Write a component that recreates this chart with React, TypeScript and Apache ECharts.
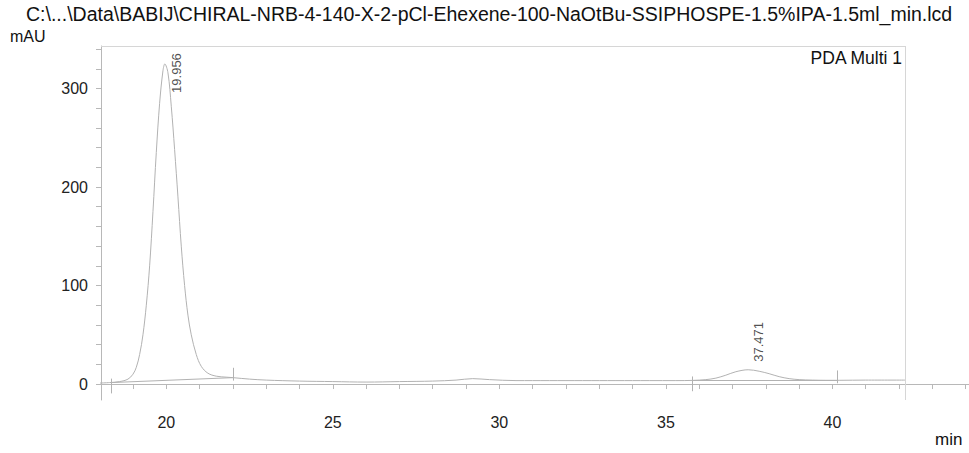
import React, { useEffect, useRef } from "react";
import * as echarts from "echarts";

const titleText =
  "C:\\...\\Data\\BABIJ\\CHIRAL-NRB-4-140-X-2-pCl-Ehexene-100-NaOtBu-SSIPHOSPE-1.5%IPA-1.5ml_min.lcd";
const yUnit = "mAU";
const xUnit = "min";
const detectorName = "PDA Multi 1";

// chromatogram trace (retention time in min, absorbance in mAU)
const times = [
  18.0, 18.3, 18.6, 18.85, 19.0, 19.1, 19.2, 19.3, 19.4, 19.5, 19.6, 19.7, 19.8, 19.9, 19.956,
  20.05, 20.15, 20.25, 20.35, 20.45, 20.55, 20.65, 20.75, 20.9, 21.05, 21.25, 21.5, 21.8, 22.0,
  22.5, 23, 24, 25, 26, 27, 28, 28.7, 29.2, 29.7, 30.5, 31.5, 32.5, 33.5, 34.5, 35.3, 35.8,
  36.2, 36.5, 36.8, 37.1, 37.471, 37.8, 38.1, 38.4, 38.7, 39.0, 39.4, 39.8, 40.2, 41, 42.2,
];
const signal = [
  1, 1.5, 2.5, 5, 10, 17, 30, 50, 80, 120, 175, 235, 285, 318, 325,
  316, 282, 238, 190, 140, 100, 70, 50, 30, 18, 11, 8, 7, 6.5,
  5, 4, 3, 2.5, 2, 2.5, 3, 4, 5.5, 4.5, 3.5, 3.5, 3.5, 3.5, 3.5, 3.5, 3.7,
  4.5, 6, 9, 12.5, 14.5, 13, 10.5, 7.5, 5.5, 4.5, 4, 3.8, 3.8, 4, 4,
];

// detected peaks
const peakTimes = [19.956, 37.471];
const peakHeights = [325, 14.5];
const peakLabels = ["19.956", "37.471"];
// integration baselines: [time, level] at start and end of each peak
const baselineStart = [
  [18.35, 1.5],
  [35.8, 3.7],
];
const baselineEnd = [
  [22.0, 6.5],
  [40.15, 3.8],
];

// axes
const xMin = 18.04;
const xMax = 44.1;
const xFrameEnd = 42.2;
const yMin = -16.2;
const yMax = 343.2;
const xTickValues = [19, 20, 21, 22, 23, 24, 25, 26, 27, 28, 29, 30, 31, 32, 33, 34, 35, 36, 37, 38, 39, 40, 41, 42, 43, 44];
const xLabelValues = [20, 25, 30, 35, 40];
const yTickValues = [0, 20, 40, 60, 80, 100, 120, 140, 160, 180, 200, 220, 240, 260, 280, 300, 320, 340];
const yLabelValues = [0, 100, 200, 300];

const FONT = "'Liberation Sans', Arial, Helvetica, sans-serif";

export default function App() {
  const ref = useRef<HTMLDivElement>(null);
  useEffect(() => {
    if (!ref.current) return;
    const chart = echarts.init(ref.current, undefined, { renderer: "svg" });
    const trace = times.map((t, i) => [t, signal[i]]);
    const baseSegs: any[] = baselineStart.map((s, i) => [
      { coord: s },
      { coord: baselineEnd[i] },
    ]);
    const startMarks: any[] = baselineStart.map((s) => [
      { coord: [s[0], s[1] + 4] },
      { coord: [s[0], s[1] - 11] },
    ]);
    const endMarks: any[] = baselineEnd.map((s) => [
      { coord: [s[0], s[1] - 3] },
      { coord: [s[0], s[1] + 10] },
    ]);
    const frame: any[] = [
      [{ coord: [xMin, yMax] }, { coord: [xFrameEnd, yMax] }],
      [{ coord: [xFrameEnd, yMin] }, { coord: [xFrameEnd, yMax] }],
    ];
    chart.setOption({
      animation: false,
      textStyle: { fontFamily: FONT },
      grid: { left: 101, top: 46, right: 0, bottom: 53, containLabel: false },
      xAxis: {
        type: "value",
        min: xMin,
        max: xMax,
        axisLine: { show: true, lineStyle: { color: "#b8b8b8", width: 1 } },
        axisTick: { show: true, length: 5, customValues: xTickValues, lineStyle: { color: "#b8b8b8" } },
        axisLabel: { customValues: xLabelValues, margin: 14, fontSize: 16, color: "#222", fontFamily: FONT },
        splitLine: { show: false },
      },
      yAxis: {
        type: "value",
        min: yMin,
        max: yMax,
        axisLine: { show: true, lineStyle: { color: "#b8b8b8", width: 1 } },
        axisTick: { show: true, length: 5, customValues: yTickValues, lineStyle: { color: "#b8b8b8" } },
        axisLabel: { customValues: yLabelValues, margin: 13, fontSize: 16, color: "#222", fontFamily: FONT },
        splitLine: { show: false },
      },
      graphic: [
        { type: "text", left: 26, top: 4, style: { text: titleText, font: `19.5px ${FONT}`, fill: "#111" } },
        { type: "text", left: 10, top: 28, style: { text: yUnit, font: `16px ${FONT}`, fill: "#111" } },
        { type: "text", left: 935, top: 431, style: { text: xUnit, font: `17px ${FONT}`, fill: "#111" } },
        { type: "text", right: 66, top: 49, style: { text: detectorName, font: `17.5px ${FONT}`, fill: "#111" } },
      ],
      series: [
        {
          type: "line",
          data: trace,
          symbol: "none",
          smooth: 0.35,
          lineStyle: { color: "#b2b2b2", width: 1 },
          silent: true,
          markLine: {
            silent: true,
            symbol: "none",
            label: { show: false },
            lineStyle: { color: "#b2b2b2", width: 1, type: "solid" },
            data: [...baseSegs, ...startMarks, ...endMarks],
          },
        },
        {
          type: "line",
          data: [],
          markLine: {
            silent: true,
            symbol: "none",
            label: { show: false },
            lineStyle: { color: "#d6d6d6", width: 1, type: "solid" },
            data: frame,
          },
        },
        {
          type: "scatter",
          data: peakTimes.map((t, i) => [t, peakHeights[i]]),
          symbolSize: 0,
          silent: true,
          label: {
            show: true,
            formatter: (p: any) => peakLabels[p.dataIndex],
            position: "inside",
            rotate: 90,
            align: "left",
            verticalAlign: "middle",
            fontSize: 13,
            color: "#222",
            fontFamily: FONT,
          },
          labelLayout: (p: any) => (p.dataIndex === 0 ? { dx: -29, dy: 12 } : { dx: 8, dy: 10 }),
        },
      ],
    });
    return () => chart.dispose();
  }, []);
  return (
    <div
      ref={ref}
      style={{ position: "absolute", left: 0, top: 0, width: 969, height: 453 }}
    />
  );
}
